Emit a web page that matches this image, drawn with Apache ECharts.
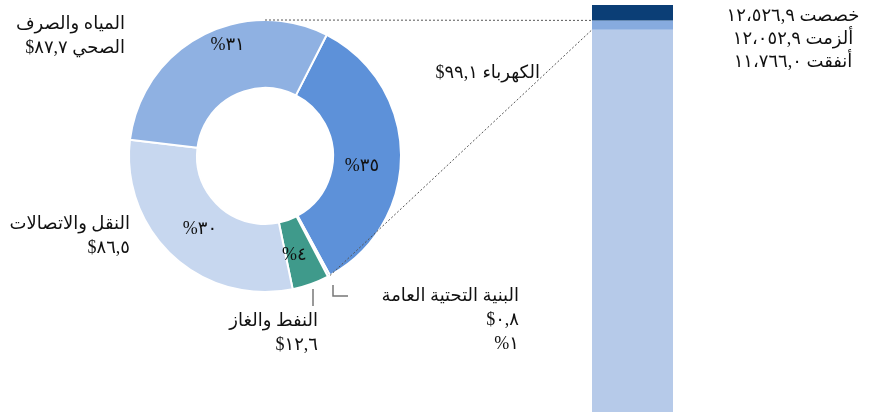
<!DOCTYPE html>
<html>
<head>
<meta charset="utf-8">
<script src="https://cdn.jsdelivr.net/npm/echarts@6/dist/echarts.min.js"></script>
<style>
    html,body{margin:0;padding:0;background:#fff;}
    #chart{width:882px;height:416px;}
</style>
</head>
<body>
<div id="chart"></div>
<script>
// data
var sectors = ['الكهرباء', 'البنية التحتية العامة', 'النفط والغاز', 'النقل والاتصالات', 'المياه والصرف الصحي'];
var sectorValues = [99.1, 0.8, 12.6, 86.5, 87.7];
var pctLabels = ['٣٥%', '١%', '٤%', '٣٠%', '٣١%'];
var outerLabels = [
    'الكهرباء ٩٩,١$',
    'البنية التحتية العامة\n٠,٨$\n١%',
    'النفط والغاز\n١٢,٦$',
    'النقل والاتصالات\n٨٦,٥$',
    'المياه والصرف\nالصحي ٨٧,٧$'
];
var budgetNames = ['خصصت', 'ألزمت', 'أنفقت'];
var budgetValues = [12526.9, 12052.9, 11766.0];
var budgetLabels = ['١٢،٥٢٦,٩', '١٢،٠٥٢,٩', '١١،٧٦٦,٠'];

// styles / layout
var FONT = "'Liberation Serif', 'DejaVu Sans', serif";
var FS = 18;
var pieColors = ['#5d91d9', '#7d9cc8', '#3f9a8b', '#c7d7ef', '#8fb1e2'];
var barColors = ['#b6cae9', '#87abdf', '#0b3e76'];
var CX = 265, CY = 156, R0 = 68, R1 = 136, START = 63;
var gridLeft = 592, gridTop = 5, gridWidth = 81, gridHeight = 407;
var outerPos = [[540, 61], [519, 284], [318, 309], [130, 212], [125, 12]];
var pctShift = [[-4, 6], [0, 0], [-3, 0], [3, -2], [6, -9]];

function rtl(s) {
    return s.split('\n').map(function (l) { return '\u202B' + l + '\u202C'; }).join('\n');
}

var chart = echarts.init(document.getElementById('chart'));

var pieData = sectors.map(function (n, i) {
    return { name: n, value: sectorValues[i] };
});

var option = {
    backgroundColor: '#fff',
    animation: false,
    grid: { left: gridLeft, top: gridTop, width: gridWidth, height: gridHeight },
    xAxis: { type: 'category', data: [''], show: false },
    yAxis: { type: 'value', min: 0, max: budgetValues[0], show: false },
    series: [
        {
            type: 'pie',
            center: [CX, CY],
            radius: [R0, R1],
            startAngle: START,
            clockwise: true,
            silent: true,
            color: pieColors,
            itemStyle: { borderColor: '#fff', borderWidth: 2 },
            label: {
                show: true,
                position: 'inside',
                fontFamily: FONT,
                fontSize: FS,
                color: '#111',
                formatter: function (p) {
                    return p.dataIndex === 1 ? '' : rtl(pctLabels[p.dataIndex]);
                }
            },
            labelLayout: function (p) {
                return { dx: pctShift[p.dataIndex][0], dy: pctShift[p.dataIndex][1] };
            },
            data: pieData
        },
        {
            type: 'pie',
            center: [CX, CY],
            radius: [R0, R1],
            startAngle: START,
            clockwise: true,
            silent: true,
            itemStyle: { color: 'rgba(0,0,0,0)' },
            labelLine: { show: false },
            label: {
                show: true,
                position: 'outside',
                overflow: 'none',
                fontFamily: FONT,
                fontSize: FS,
                lineHeight: 24,
                color: '#111',
                align: 'right',
                formatter: function (p) { return rtl(outerLabels[p.dataIndex]); }
            },
            labelLayout: function (p) {
                var q = outerPos[p.dataIndex];
                return { x: q[0], y: q[1], align: 'right', verticalAlign: 'top' };
            },
            data: pieData
        },
        {
            type: 'bar', stack: 'b', barWidth: '100%', silent: true,
            itemStyle: { color: barColors[0] },
            data: [budgetValues[2]]
        },
        {
            type: 'bar', stack: 'b', barWidth: '100%', silent: true,
            itemStyle: { color: barColors[1] },
            data: [budgetValues[1] - budgetValues[2]]
        },
        {
            type: 'bar', stack: 'b', barWidth: '100%', silent: true,
            itemStyle: { color: barColors[2] },
            data: [budgetValues[0] - budgetValues[1]]
        }
    ]
};

chart.setOption(option);

// connector lines from the ring to the bar band, budget text
var yTop = chart.convertToPixel({ yAxisIndex: 0 }, budgetValues[1]);
var yBot = chart.convertToPixel({ yAxisIndex: 0 }, budgetValues[2]);
var total = sectorValues.reduce(function (a, b) { return a + b; }, 0);
var endA = (START - 360 * sectorValues[0] / total) * Math.PI / 180;
var ex = CX + R1 * Math.cos(endA), ey = CY - R1 * Math.sin(endA);
var dash = { stroke: '#555', lineWidth: 1, lineDash: [2, 2] };
var grey = { stroke: '#777', lineWidth: 1.5, fill: null };

var graphics = [
    { type: 'line', z: 10, shape: { x1: CX, y1: CY - R1, x2: gridLeft, y2: yTop }, style: dash },
    { type: 'line', z: 10, shape: { x1: ex, y1: ey, x2: gridLeft, y2: yBot }, style: dash },
    { type: 'line', z: 10, shape: { x1: 313, y1: 289, x2: 313, y2: 306 }, style: grey },
    { type: 'polyline', z: 10, shape: { points: [[333, 285], [333, 296], [348, 296]] }, style: grey }
];
budgetNames.forEach(function (n, i) {
    graphics.push({
        type: 'text', x: 793, y: 16 + i * 23,
        style: {
            text: rtl(n + ' ' + budgetLabels[i]),
            font: FS + 'px ' + FONT, fill: '#111',
            align: 'center', verticalAlign: 'middle'
        }
    });
});
chart.setOption({ graphic: graphics });
</script>
</body>
</html>
